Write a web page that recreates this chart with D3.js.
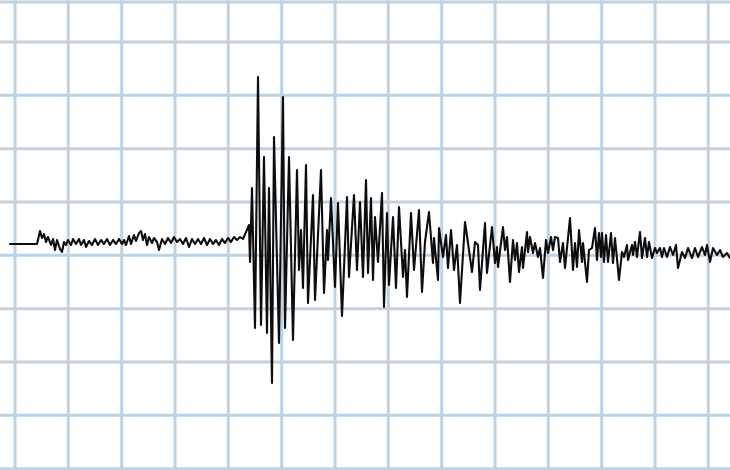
<!DOCTYPE html>
<html>
<head>
<meta charset="utf-8">
<script src="https://cdn.jsdelivr.net/npm/d3@7"></script>
<style>
html,body{margin:0;padding:0;background:#fff;}
svg{display:block;}
</style>
</head>
<body>
<div id="chart"></div>
<script>
// Seismogram: time (s) and amplitude (arbitrary units)
const times = [1.0,3.7,4.0,4.2,4.4,4.6,4.8,5.1,5.3,5.5,5.7,6.0,6.2,6.4,6.6,6.8,7.1,7.3,7.6,7.9,8.1,8.4,8.6,8.9,9.2,9.5,9.8,10.1,10.4,10.7,11.0,11.3,11.6,11.9,12.2,12.4,12.6,12.9,13.1,13.4,13.6,13.9,14.1,14.3,14.5,14.7,14.9,15.2,15.4,15.7,15.9,16.2,16.5,16.8,17.1,17.4,17.7,18.0,18.3,18.6,18.9,19.2,19.5,19.8,20.1,20.4,20.7,21.0,21.3,21.6,21.9,22.2,22.5,22.8,23.1,23.4,23.7,24.0,24.3,24.6,24.9,25.0,25.2,25.5,25.8,26.1,26.4,26.7,26.9,27.2,27.4,27.9,28.3,28.5,28.9,29.3,29.7,29.9,30.1,30.3,30.6,30.8,31.3,31.5,32.1,32.4,32.7,32.8,33.1,33.5,33.8,34.2,34.7,34.9,35.4,35.7,36.0,36.3,36.6,36.8,37.1,37.3,37.5,37.8,38.2,38.4,38.7,38.9,39.3,39.6,39.9,40.3,40.5,40.7,41.1,41.4,41.9,42.2,42.5,42.9,43.3,43.4,43.8,43.9,44.3,44.6,44.8,45.1,45.4,45.7,46.0,46.5,46.8,47.2,47.5,47.8,48.0,48.5,48.7,49.2,49.5,49.7,49.8,50.3,50.5,50.7,51.0,51.3,51.5,51.7,51.9,52.2,52.3,52.7,52.8,53.0,53.3,53.5,53.8,54.0,54.3,54.6,54.8,55.1,55.3,55.5,55.8,56.0,56.3,56.5,57.0,57.3,57.5,57.7,57.9,58.2,58.3,58.7,58.9,59.2,59.5,59.7,59.9,60.1,60.2,60.4,60.6,60.8,61.1,61.3,61.5,61.9,62.2,62.4,62.7,62.8,63.2,63.3,63.5,63.7,64.0,64.2,64.5,64.7,64.9,65.2,65.5,65.7,66.0,66.2,66.4,66.7,67.0,67.3,67.6,67.8,68.2,68.5,68.8,69.2,69.5,69.8,70.2,70.5,70.7,71.0,71.3,71.7,72.0,72.3,72.7,73.0];
const amplitudes = [-0.1,-0.1,1.2,0.5,0.9,0.1,0.6,-0.2,0.4,-0.7,0.3,-0.6,-0.9,0.1,-0.2,0.3,-0.2,0.4,-0.1,0.4,-0.2,0.3,-0.4,0.2,-0.2,0.4,-0.2,0.3,-0.1,0.4,-0.2,0.3,-0.1,0.4,-0.1,0.3,-0.2,0.7,-0.1,0.8,0.2,1.0,1.2,0.3,0.9,-0.2,0.6,0.0,0.5,0.1,-0.7,0.4,-0.1,0.5,0.0,0.6,0.1,0.4,-0.1,0.5,-0.4,0.4,-0.1,0.4,-0.1,0.5,-0.2,0.4,-0.1,0.3,-0.2,0.4,0.0,0.5,0.1,0.6,0.3,0.6,0.4,1.1,1.8,-1.9,5.5,-8.5,16.6,-8.2,8.6,-9.0,5.5,-14.0,10.6,-10.0,14.6,-8.5,8.6,-9.7,7.3,-2.7,1.3,-4.5,7.8,-6.0,4.8,-5.7,7.3,-5.0,1.3,-1.7,4.5,-4.4,4.0,-7.3,4.6,-3.4,4.8,-2.7,4.1,-3.4,6.3,-3.0,4.5,-3.7,2.6,-1.9,5.0,-6.4,3.0,-4.2,2.6,-4.5,3.6,-3.4,-0.7,-5.4,3.0,-2.7,3.3,-4.9,0.1,3.1,-2.0,0.5,-3.7,1.5,-1.4,0.8,-2.5,1.3,-2.7,-0.2,-6.0,2.1,0.0,-2.9,0.1,-0.2,-4.7,2.0,-3.0,1.6,-2.0,-0.4,-2.4,1.6,-0.7,0.6,-3.9,0.3,-1.7,0.0,-2.9,-0.4,-2.5,1.1,-0.9,0.6,-1.0,0.0,-1.4,-0.5,-3.5,0.3,-1.0,0.6,-0.7,0.6,0.5,-1.9,0.0,-2.5,2.5,-2.7,0.0,-2.4,1.3,-1.9,0.0,-3.9,-0.7,-0.5,1.5,-1.7,1.0,-1.4,1.0,-1.9,0.8,-1.9,1.0,-2.0,0.5,-3.7,-0.9,-1.4,-0.2,-1.7,-0.2,-1.2,0.1,-1.4,1.1,-1.5,0.5,-1.4,0.1,-1.5,-0.5,-1.0,-0.5,-1.4,-0.5,-1.4,-0.4,-1.2,-0.2,-2.5,-0.9,-1.5,-0.5,-1.5,-0.5,-1.4,-0.4,-1.2,-0.2,-1.9,-0.5,-1.2,-0.7,-1.4,-1.0,-1.5];
// Grid (chart-paper) lines
const gridTimes = [1.5,6.83,12.17,17.5,22.83,28.17,33.5,38.83,44.17,49.5,54.83,60.17,65.5,70.83];
const gridAmps = [24.1,20.1,14.77,9.43,4.1,-1.23,-6.57,-11.9,-17.23,-22.57];

const W = 730, H = 470;
const svg = d3.select("#chart").append("svg").attr("width", W).attr("height", H);

const x = d3.scaleLinear().domain([0, 73]).range([0, W]);
const y = d3.scaleLinear().domain([-22.7, 24.3]).range([H, 0]);

const g = svg.append("g");
g.selectAll("line.v").data(gridTimes).join("line").attr("class","v")
  .attr("x1", d => x(d)).attr("x2", d => x(d)).attr("y1", 0).attr("y2", H)
  .attr("stroke", "#bdd2e2").attr("stroke-width", 3);
g.selectAll("line.h").data(gridAmps).join("line").attr("class","h")
  .attr("y1", d => y(d)).attr("y2", d => y(d)).attr("x1", 0).attr("x2", W)
  .attr("stroke", "#bdd2e2").attr("stroke-width", 3);

const data = times.map((t, i) => ({t, a: amplitudes[i]}));
const line = d3.line().x(d => x(d.t)).y(d => y(d.a));
svg.append("path").datum(data).attr("d", line)
  .attr("fill", "none").attr("stroke", "#0d0d0d").attr("stroke-width", 2.1)
  .attr("stroke-linejoin", "round").attr("stroke-linecap", "round");
</script>
</body>
</html>
